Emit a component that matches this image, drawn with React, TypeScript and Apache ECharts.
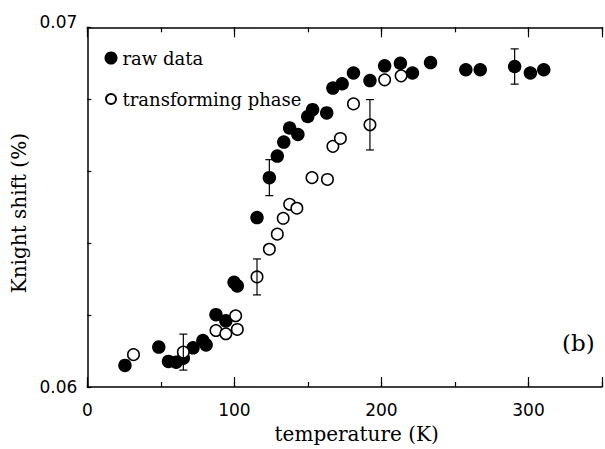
import React, { useEffect, useRef } from "react";
import * as echarts from "echarts";

// raw data (filled circles)
const rawT = [25.6, 48.6, 55.2, 60.4, 65.3, 71.9, 78.6, 80.8, 87.5, 94.2, 99.8, 102, 115.4, 123.8, 129.2, 133.6, 137.6, 143.2, 149.9, 153.2, 162.8, 167, 173.3, 181, 192.2, 202.2, 212.9, 221.1, 233.4, 257.4, 267.2, 290.6, 301.3, 310.4];
const rawK = [0.0606, 0.06111, 0.06071, 0.06069, 0.0608, 0.06109, 0.06129, 0.06117, 0.06201, 0.06184, 0.06291, 0.06281, 0.06471, 0.06582, 0.06642, 0.06681, 0.0672, 0.06702, 0.06752, 0.06771, 0.06762, 0.06831, 0.06843, 0.06873, 0.06852, 0.06893, 0.069, 0.06873, 0.06902, 0.06882, 0.06882, 0.06891, 0.06873, 0.06882];

// transforming phase (open circles)
const phaseT = [31.4, 65.3, 87.5, 94.2, 100.9, 102, 115.4, 123.8, 129.2, 133.2, 137.6, 142.5, 152.8, 163.3, 167, 172.1, 181, 192.2, 202.2, 213.4];
const phaseK = [0.0609, 0.06097, 0.06157, 0.06148, 0.06198, 0.0616, 0.06306, 0.06383, 0.06425, 0.06469, 0.06508, 0.06497, 0.06582, 0.06577, 0.06669, 0.06691, 0.06787, 0.06729, 0.06854, 0.06865];

// error bars
const errT = [65.3, 115.4, 123.8, 192.2, 290.6];
const errK = [0.06097, 0.06306, 0.06582, 0.06729, 0.06891];
const errD = [0.0005, 0.0005, 0.0005, 0.0007, 0.00049];

// tick labels
const xTickLabels = ["0", "100", "200", "300"];
const yTickLabels = ["0.06", "0.07"];

const SERIF = "DejaVu Serif";
const SANS = "DejaVu Sans";

// small open circle centred in a 13x13 box (legend icon)
const SMALL_RING = "path://M0 0M13 13M1.5 6.5A5 5 0 1 1 11.5 6.5A5 5 0 1 1 1.5 6.5Z";

export default function App() {
  const ref = useRef<HTMLDivElement>(null);
  useEffect(() => {
    if (!ref.current) return;
    const chart = echarts.init(ref.current, undefined, { renderer: "svg" });
    const xBase = {
      type: "value",
      min: 0,
      max: 350,
      splitLine: { show: false },
    };
    const tickStyle = { color: "#000", width: 1.2 };
    const option: any = {
      animation: false,
      backgroundColor: "#fff",
      grid: { left: 87.3, right: -6, top: 27.3, bottom: 60.7 },
      legend: {
        orient: "vertical",
        left: 103.5,
        top: 49,
        padding: 0,
        itemWidth: 13,
        itemHeight: 13,
        itemGap: 23,
        selectedMode: false,
        textStyle: { fontFamily: SERIF, fontSize: 18, color: "#000" },
        data: [
          { name: "raw data", icon: "circle" },
          { name: "transforming phase", icon: SMALL_RING },
        ],
      },
      xAxis: [
        {
          ...xBase,
          interval: 100,
          position: "bottom",
          axisLine: { show: true, lineStyle: { color: "#000", width: 1.5 } },
          axisTick: { show: true, inside: true, length: 10, lineStyle: tickStyle },
          axisLabel: {
            margin: 14,
            color: "#000",
            fontFamily: SANS,
            fontSize: 17,
            formatter: (v: number) => {
              const s = String(Math.round(v));
              return xTickLabels.includes(s) && Math.abs(v - Math.round(v)) < 1e-9 ? s : "";
            },
          },
          name: "temperature (K)",
          nameLocation: "middle",
          nameGap: 37,
          nameTextStyle: { fontFamily: SERIF, fontSize: 20, color: "#000", padding: [0, 0, 0, 24] },
        },
        {
          ...xBase,
          interval: 50,
          position: "bottom",
          axisLine: { show: false },
          axisTick: { show: true, inside: true, length: 5, lineStyle: tickStyle },
          axisLabel: { show: false },
        },
        {
          ...xBase,
          interval: 100,
          position: "top",
          axisLine: { show: true, lineStyle: { color: "#000", width: 1.5 } },
          axisTick: { show: true, inside: true, length: 10, lineStyle: tickStyle },
          axisLabel: { show: false },
        },
        {
          ...xBase,
          interval: 50,
          position: "top",
          axisLine: { show: false },
          axisTick: { show: true, inside: true, length: 5, lineStyle: tickStyle },
          axisLabel: { show: false },
        },
      ],
      yAxis: [
        {
          type: "value",
          min: 0.06,
          max: 0.07,
          interval: 0.002,
          position: "left",
          splitLine: { show: false },
          axisLine: { show: true, lineStyle: { color: "#000", width: 1.5 } },
          axisTick: { show: true, inside: true, length: 4, lineStyle: tickStyle },
          axisLabel: {
            margin: 10,
            color: "#000",
            fontFamily: SANS,
            fontSize: 17,
            formatter: (v: number) => {
              if (Math.abs(v - 0.06) < 1e-9) return yTickLabels[0];
              if (Math.abs(v - 0.07) < 1e-9) return "{t|" + yTickLabels[1] + "}";
              return "";
            },
            rich: {
              t: { fontFamily: SANS, fontSize: 17, color: "#000", padding: [0, 0, 11, 0] },
            },
          },
          name: "Knight shift (%)",
          nameLocation: "middle",
          nameGap: 57,
          nameTextStyle: { fontFamily: SERIF, fontSize: 20, color: "#000", padding: [0, 12, 0, 0] },
        },
      ],
      graphic: [
        {
          type: "text",
          left: 562,
          top: 331,
          style: { text: "(b)", fontFamily: SERIF, fontSize: 23, fill: "#000" },
        },
      ],
      series: [
        {
          name: "raw data",
          type: "scatter",
          xAxisIndex: 0,
          yAxisIndex: 0,
          symbol: "circle",
          symbolSize: 13.5,
          itemStyle: { color: "#000", opacity: 1 },
          data: rawT.map((t, i) => [t, rawK[i]]),
          z: 2,
        },
        {
          name: "transforming phase",
          type: "scatter",
          xAxisIndex: 0,
          yAxisIndex: 0,
          symbol: "circle",
          symbolSize: 11.5,
          itemStyle: { color: "#fff", borderColor: "#000", borderWidth: 1.5, opacity: 1 },
          data: phaseT.map((t, i) => [t, phaseK[i]]),
          z: 3,
        },
        {
          name: "error",
          type: "custom",
          xAxisIndex: 0,
          yAxisIndex: 0,
          z: 4,
          encode: { x: 0, y: 1 },
          data: errT.map((t, i) => [t, errK[i], errD[i]]),
          renderItem: (params: any, api: any) => {
            const x = api.value(0);
            const y = api.value(1);
            const d = api.value(2);
            const top = api.coord([x, y + d]);
            const bot = api.coord([x, y - d]);
            const hw = 4;
            const style = { stroke: "#000", lineWidth: 1.2 };
            return {
              type: "group",
              children: [
                { type: "line", shape: { x1: top[0], y1: top[1], x2: bot[0], y2: bot[1] }, style },
                { type: "line", shape: { x1: top[0] - hw, y1: top[1], x2: top[0] + hw, y2: top[1] }, style },
                { type: "line", shape: { x1: bot[0] - hw, y1: bot[1], x2: bot[0] + hw, y2: bot[1] }, style },
              ],
            };
          },
        },
      ],
    };
    chart.setOption(option);
    return () => chart.dispose();
  }, []);
  return (
    <div
      ref={ref}
      style={{ position: "fixed", left: 0, top: 0, width: 605, height: 449, background: "#fff" }}
    />
  );
}
